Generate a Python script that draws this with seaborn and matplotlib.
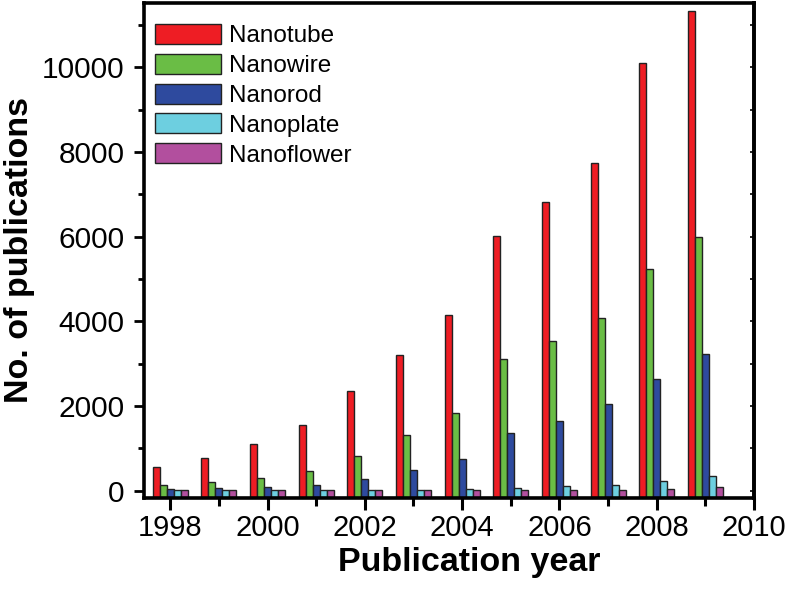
import numpy as np
import pandas as pd
import seaborn as sns
import matplotlib
matplotlib.use("Agg")
import matplotlib.pyplot as plt
from matplotlib.patches import Patch
from matplotlib.ticker import MultipleLocator, FuncFormatter

years = [1998, 1999, 2000, 2001, 2002, 2003, 2004, 2005, 2006, 2007, 2008, 2009]
categories = ["Nanotube", "Nanowire", "Nanorod", "Nanoplate", "Nanoflower"]
nanotube = [555, 760, 1100, 1540, 2345, 3195, 4155, 6005, 6815, 7730, 10110, 11335]
nanowire = [130, 195, 295, 470, 825, 1305, 1835, 3100, 3535, 4070, 5235, 5990]
nanorod = [40, 70, 95, 140, 265, 495, 745, 1360, 1650, 2040, 2630, 3215]
nanoplate = [15, 15, 15, 15, 20, 25, 35, 60, 105, 140, 235, 335]
nanoflower = [15, 15, 15, 15, 15, 15, 15, 20, 25, 15, 45, 75]
colors = ["#ee1d24", "#6abd45", "#2e4a9e", "#6dcfe0", "#b24f9e"]

series = [nanotube, nanowire, nanorod, nanoplate, nanoflower]
df = pd.DataFrame({
    "year": np.repeat(years, len(categories)),
    "kind": categories * len(years),
    "count": [series[j][i] for i in range(len(years)) for j in range(len(categories))],
})

sns.set_style("ticks")
plt.rcParams["font.family"] = ["Liberation Sans", "DejaVu Sans"]
plt.rcParams["text.color"] = "black"
plt.rcParams["axes.labelcolor"] = "black"
plt.rcParams["xtick.color"] = "black"
plt.rcParams["ytick.color"] = "black"

fig = plt.figure(figsize=(7.87, 5.89), dpi=100)
ax = fig.add_axes([0.183, 0.1545, 0.775, 0.8405])

sns.barplot(data=df, x="year", y="count", hue="kind", hue_order=categories,
            palette=colors, native_scale=True, width=0.72, dodge=True,
            edgecolor="#222222", linewidth=1.0, saturation=1, legend=False, ax=ax,
            errorbar=None)

ymin, ymax = -175, 11520
ax.set_ylim(ymin, ymax)
ax.set_xlim(1997.46, 2010)

# bars start at the bottom axis line, as in the reference
for cont in ax.containers:
    for rect in cont:
        h = rect.get_height()
        rect.set_y(ymin)
        rect.set_height(h - ymin)

ax.xaxis.set_major_locator(MultipleLocator(2))
ax.xaxis.set_minor_locator(MultipleLocator(1))
ax.yaxis.set_major_locator(MultipleLocator(2000))
ax.yaxis.set_minor_locator(MultipleLocator(1000))
ax.xaxis.set_major_formatter(FuncFormatter(lambda v, p: f"{int(round(v))}"))

for s in ax.spines.values():
    s.set_linewidth(2.6)
    s.set_color("black")

ax.tick_params(axis="x", which="major", direction="out", length=8.5, width=2.2,
               pad=3, labelsize=21, colors="black")
ax.tick_params(axis="x", which="minor", direction="out", length=5.5, width=2.2, colors="black")
ax.tick_params(axis="y", which="major", direction="out", length=7, width=2.0,
               pad=7, right=False, labelsize=21.5, colors="black")
ax.tick_params(axis="y", which="minor", direction="out", length=4, width=2.0, colors="black")

# inward ticks on right spine
secy = ax.secondary_yaxis("right")
secy.yaxis.set_major_locator(MultipleLocator(1000))
secy.tick_params(direction="in", length=3, width=1.2, labelright=False, colors="black")
secy.spines["right"].set_linewidth(2.6)
secy.spines["right"].set_color("black")

ax.set_xlabel("Publication year", fontsize=24.5, fontweight="bold", color="black")
ax.set_ylabel("No. of publications", fontsize=24.5, fontweight="bold", color="black")
ax.xaxis.set_label_coords(0.533, -0.098)
ax.yaxis.set_label_coords(-0.179, 0.5)

handles = [Patch(facecolor=c, edgecolor="#222222", linewidth=1.0) for c in colors]
leg = ax.legend(handles, categories, loc="upper left", bbox_to_anchor=(-0.01, 0.992),
                frameon=False, fontsize=17.5, handlelength=2.7, handleheight=0.9,
                labelspacing=0.26, handletextpad=0.35, borderaxespad=0.3,
                labelcolor="black")

fig.savefig("out.png", dpi=100)
